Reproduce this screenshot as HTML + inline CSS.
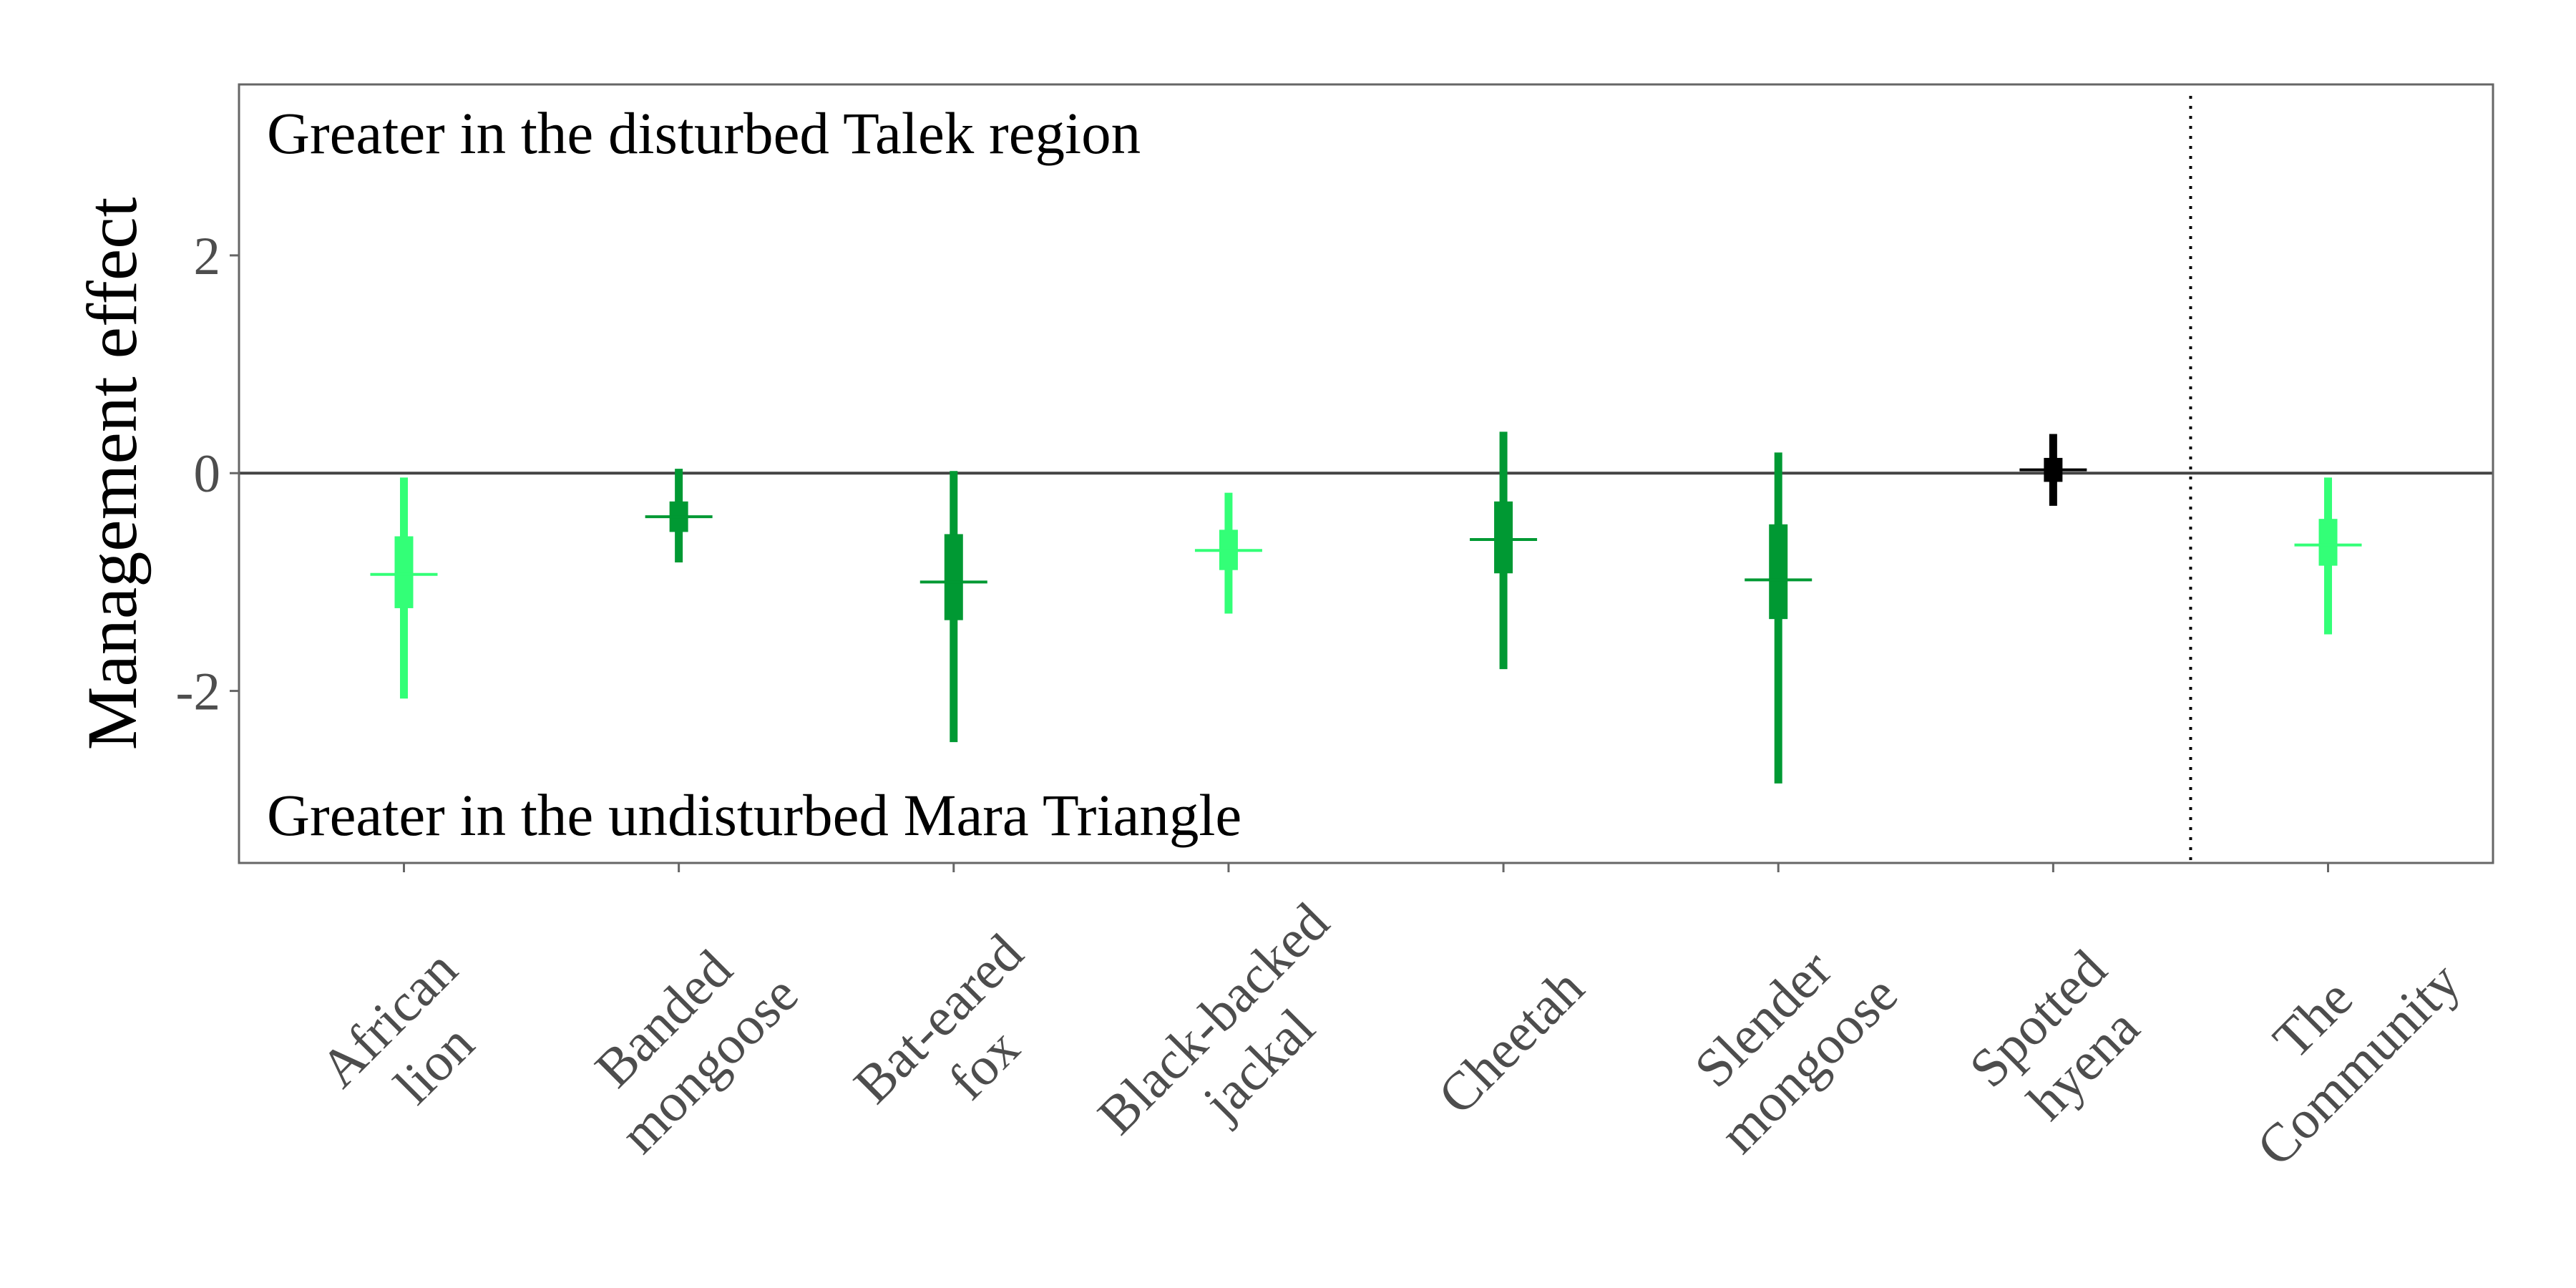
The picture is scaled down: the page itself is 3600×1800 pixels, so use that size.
<!DOCTYPE html>
<html><head><meta charset="utf-8"><style>
html,body{margin:0;padding:0;background:#fff;}
svg{display:block;}
</style></head><body>
<svg id="chart" width="3600" height="1800" viewBox="0 0 3600 1800" xmlns="http://www.w3.org/2000/svg" font-family="'Liberation Serif', serif">
<rect x="0" y="0" width="3600" height="1800" fill="#fff"/>
<g id="marks"></g>
<g id="axes"></g>
<text x="373" y="214" font-size="83" fill="#000">Greater in the disturbed Talek region</text>
<text x="373" y="1167" font-size="83" fill="#000">Greater in the undisturbed Mara Triangle</text>
<text transform="translate(190,662) rotate(-90)" text-anchor="middle" font-size="100" fill="#000">Management effect</text>
</svg>
<script>
const categories = ["African|lion","Banded|mongoose","Bat-eared|fox","Black-backed|jackal","Cheetah","Slender|mongoose","Spotted|hyena","The|Community"];
const lowerOuter = [-2.07,-0.82,-2.47,-1.29,-1.80,-2.85,-0.30,-1.48];
const upperOuter = [-0.04,0.04,0.02,-0.18,0.38,0.19,0.36,-0.04];
const lowerInner = [-1.24,-0.54,-1.35,-0.89,-0.92,-1.34,-0.08,-0.85];
const upperInner = [-0.58,-0.26,-0.56,-0.52,-0.26,-0.47,0.14,-0.42];
const medians = [-0.93,-0.40,-1.00,-0.71,-0.61,-0.98,0.03,-0.66];
const groups = ["light","dark","dark","light","dark","dark","black","light"];
const yTicks = [-2,0,2];
const yTickLabels = ["-2","0","2"];

const NS="http://www.w3.org/2000/svg";
const L=334,R=3484,T=118,B=1206;
const yMin=-3.58,yMax=3.57;
const n=categories.length;
const step=(R-L)/(n-1+1.2);
function xPos(i){return L+0.6*step+i*step;}
function yPos(v){return B-(v-yMin)/(yMax-yMin)*(B-T);}
const colors={light:"#33ff77",dark:"#009933",black:"#000000"};
function mk(tag,attrs,parent){const e=document.createElementNS(NS,tag);for(const k in attrs)e.setAttribute(k,attrs[k]);parent.appendChild(e);return e;}
const marks=document.getElementById('marks');
const axes=document.getElementById('axes');

const zl=mk('line',{x1:L,x2:R,y1:yPos(0),y2:yPos(0),stroke:'#444',"stroke-width":4},marks);


const sepX=(xPos(6)+xPos(7))/2;
const sep=mk('line',{x1:sepX,x2:sepX,y1:T+16,y2:B,stroke:'#000',"stroke-width":4,"stroke-dasharray":"4 10"},marks);



for(let i=0;i<n;i++){
  const c=colors[groups[i]],x=xPos(i);
  const g=mk('g',{},marks);
  
  
  const o=mk('line',{x1:x,x2:x,y1:yPos(upperOuter[i]),y2:yPos(lowerOuter[i]),stroke:c,"stroke-width":11},g);
  
  
  const b=mk('rect',{x:x-13,y:yPos(upperInner[i]),width:26,height:yPos(lowerInner[i])-yPos(upperInner[i]),fill:c},g);
  
  
  const m=mk('line',{x1:x-47,x2:x+47,y1:yPos(medians[i]),y2:yPos(medians[i]),stroke:c,"stroke-width":4},g);
  
  
}

const pb=mk('rect',{x:L,y:T,width:R-L,height:B-T,fill:'none',stroke:'#666',"stroke-width":3},axes);



yTicks.forEach((v,k)=>{
  const t=mk('line',{x1:L-13,x2:L,y1:yPos(v),y2:yPos(v),stroke:'#666',"stroke-width":3},axes);
  
  
  const tx=mk('text',{x:L-26,y:yPos(v)+26,"text-anchor":"end","font-size":75,fill:'#4d4d4d'},axes);
  tx.textContent=yTickLabels[k];
  
  
});

categories.forEach((lab,i)=>{
  const x=xPos(i);
  const t=mk('line',{x1:x,x2:x,y1:B,y2:B+13,stroke:'#666',"stroke-width":3},axes);
  
  
  const lines=lab.split('|');
  const cx=x+10,cy=1455;
  const g=mk('g',{transform:`translate(${cx},${cy}) rotate(-45)`},axes);
  
  
  const lh=90;
  lines.forEach((ln,j)=>{
    const off=(j-(lines.length-1)/2)*lh;
    const te=mk('text',{x:0,y:off+26,"text-anchor":"middle","font-size":76,fill:'#4d4d4d'},g);
    te.textContent=ln;
  });
});
</script>
</body></html>
